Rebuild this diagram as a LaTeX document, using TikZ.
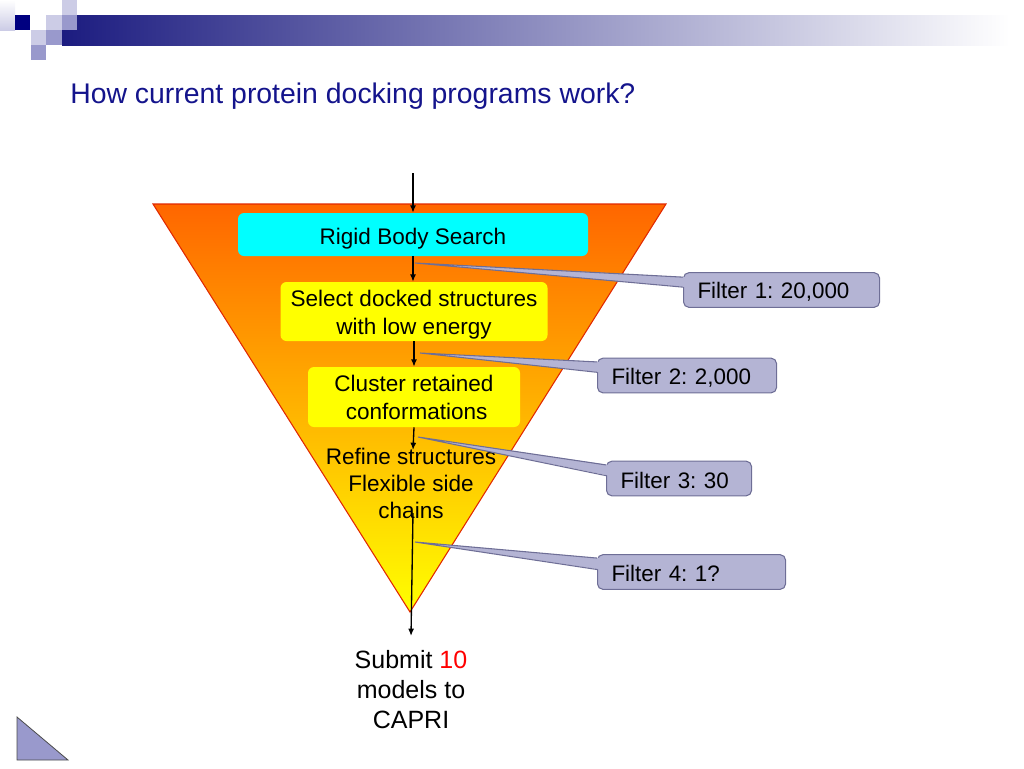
\documentclass[tikz,border=0pt]{standalone}
\usepackage{fontspec}
\setmainfont{Liberation Sans}
\frenchspacing
\usetikzlibrary{calc,arrows.meta}

\definecolor{titleblue}{RGB}{20,20,140}
\definecolor{barblue}{RGB}{28,28,128}
\definecolor{darknavy}{RGB}{0,0,128}
\definecolor{lightlav}{RGB}{204,204,230}
\definecolor{midlav}{RGB}{153,153,204}
\definecolor{filterfill}{RGB}{180,180,212}
\definecolor{filterline}{RGB}{110,110,150}
\definecolor{funnelorange}{RGB}{255,102,0}
\definecolor{funnelline}{RGB}{225,40,0}
\definecolor{stepcyan}{RGB}{0,255,255}
\definecolor{stepyellow}{RGB}{255,255,0}

\tikzset{
  stepbox/.style={rectangle, rounded corners=4.5pt, inner sep=0pt, align=center,
    font=\fontsize{16.9}{21}\selectfont},
  filterbox/.style={rectangle, rounded corners=4pt, draw=filterline, fill=filterfill,
    line width=0.8pt, anchor=west, minimum height=26pt, inner xsep=10.5pt, inner ysep=0pt,
    align=left, font=\fontsize{16.8}{20}\selectfont,
    execute at begin node={\rule{0pt}{15pt}}},
  flow/.style={-{Latex[length=5.5pt,width=4.5pt]}, line width=1pt},
  pointer/.style={draw=filterline, line width=0.8pt},
}

\begin{document}
\begin{tikzpicture}[x=0.75pt,y=-0.75pt]
  \useasboundingbox (0,0) rectangle (1024,768);

  % header squares and bar
  \fill[left color=barblue, right color=white] (62,15) rectangle (1010,45);
  \fill[top color=white, bottom color=lightlav] (0,0) rectangle (15,30);
  \fill[darknavy] (15,15) rectangle (30,30);
  \fill[lightlav] (46,15) rectangle (62,30);
  \fill[lightlav] (62,0) rectangle (77,15);
  \fill[midlav] (62,15) rectangle (77,30);
  \fill[lightlav] (31,30) rectangle (46,45);
  \fill[midlav] (46,30) rectangle (62,45);
  \fill[midlav] (31,45) rectangle (46,60);

  \node[anchor=base west, text=titleblue, font=\fontsize{21.3}{25}\selectfont, inner sep=0pt]
    (title) at (70,103) {How current protein docking programs work?};

  % funnel
  \path[draw=funnelline, line width=0.8pt, top color=funnelorange, bottom color=stepyellow]
    (153,204) -- (666,204) -- (410,612) -- cycle;

  \node[stepbox, fill=stepcyan, minimum width=262.5pt, minimum height=32.25pt,
    execute at begin node={\rule{0pt}{18pt}}]
    (rigid) at (413,234.5) {Rigid Body Search};
  \node[stepbox, fill=stepyellow, minimum width=200.25pt, minimum height=44.25pt]
    (select) at (414,311.5) {\rule{0pt}{17pt}Select docked structures\\with low energy};
  \node[stepbox, fill=stepyellow, minimum width=159pt, minimum height=45pt]
    (cluster) at (414,397) {Cluster retained\\\hspace*{4pt}conformations};
  \node[align=center, font=\fontsize{16.9}{20.25}\selectfont, inner sep=0pt]
    (refine) at (411,483) {Refine structures\\Flexible side\\chains};
  \node[align=center, font=\fontsize{18.75}{22.5}\selectfont, inner sep=0pt]
    (submit) at (411,690) {Submit \textcolor{red}{10}\\models to\\CAPRI};

  \coordinate (in) at (413,173);
  \coordinate (r1) at (413,450);
  \coordinate (r2) at (413,513);
  \coordinate (out) at (411,636);
  \draw[flow] (in) -- (rigid.north);
  \draw[flow] (rigid.south) -- (rigid.south |- select.north);
  \draw[flow] (select.south) -- (select.south |- cluster.north);
  \draw[flow] (cluster.south) -- (r1);
  \draw[flow] (r2) -- (out);

  % filters
  \node[filterbox, text width=126pt] (f1) at (683,290) {Filter 1: 20,000};
  \node[filterbox, text width=113.25pt] (f2) at (597,375.5) {Filter 2: 2,000};
  \node[filterbox, text width=87.75pt] (f3) at (606,478.5) {Filter 3: 30};
  \node[filterbox, text width=120pt] (f4) at (597,572) {Filter 4: 1?};

  \coordinate (t1) at (415,263);
  \coordinate (t2) at (420,353);
  \coordinate (t3) at (418,437);
  \coordinate (t4) at (415,542);

  \coordinate (f1a) at ($(f1.north west)!0.14!(f1.south west)$);
  \coordinate (f1b) at ($(f1.north west)!0.42!(f1.south west)$);
  \coordinate (f2a) at ($(f2.north west)!0.12!(f2.south west)$);
  \coordinate (f2b) at ($(f2.north west)!0.41!(f2.south west)$);
  \coordinate (f3a) at ($(f3.north west)!0.12!(f3.south west)$);
  \coordinate (f3b) at ($(f3.north west)!0.42!(f3.south west)$);
  \coordinate (f4a) at ($(f4.north west)!0.11!(f4.south west)$);
  \coordinate (f4b) at ($(f4.north west)!0.43!(f4.south west)$);

  \fill[filterfill] (t1) -- ($(f1a)+(3,0)$) -- ($(f1b)+(3,0)$) -- cycle;
  \fill[filterfill] (t2) -- ($(f2a)+(3,0)$) -- ($(f2b)+(3,0)$) -- cycle;
  \fill[filterfill] (t3) -- ($(f3a)+(3,0)$) -- ($(f3b)+(3,0)$) -- cycle;
  \fill[filterfill] (t4) -- ($(f4a)+(3,0)$) -- ($(f4b)+(3,0)$) -- cycle;
  \draw[pointer] (f1a) -- (t1) -- (f1b);
  \draw[pointer] (f2a) -- (t2) -- (f2b);
  \draw[pointer] (f3a) -- (t3) -- (f3b);
  \draw[pointer] (f4a) -- (t4) -- (f4b);

  % corner mark
  \draw[fill=midlav, draw=black!70, line width=0.6pt] (17,717) -- (17,760) -- (68,760) -- cycle;
\end{tikzpicture}
\end{document}
